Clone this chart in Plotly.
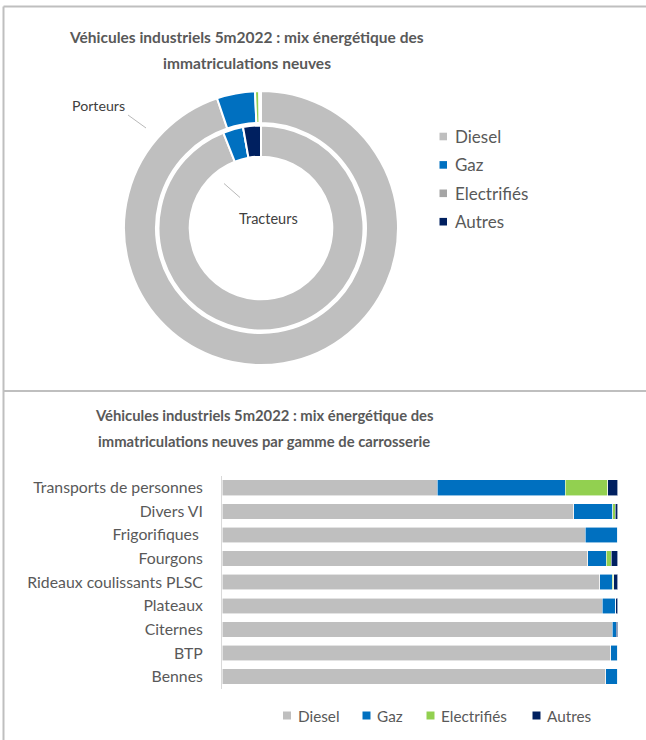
import plotly.graph_objects as go

W, H = 646, 740

# --- Donut: energy mix of new registrations (share, %) ---
energies = ["Diesel", "Gaz", "Electrifiés", "Autres"]
tracteurs = [94.0, 3.2, 0.0, 2.8]
porteurs = [94.8, 4.5, 0.5, 0.2]
colors_tracteurs = ["#BFBFBF", "#0070C0", "#A5A5A5", "#002060"]
colors_porteurs = ["#BFBFBF", "#0070C0", "#92D050", "#002060"]

# --- Bars: energy mix by body type (share, %) ---
carrosseries = ["Transports de personnes", "Divers VI", "Frigorifiques ", "Fourgons",
                "Rideaux coulissants PLSC", "Plateaux", "Citernes", "BTP", "Bennes"]
diesel = [54.4, 88.9, 91.8, 92.4, 95.5, 96.1, 98.7, 98.3, 97.0]
gaz = [32.4, 9.9, 8.2, 4.7, 3.2, 3.4, 0.9, 1.7, 3.0]
electrifies = [10.7, 0.6, 0.0, 1.3, 0.3, 0.0, 0.0, 0.0, 0.0]
autres = [2.5, 0.6, 0.0, 1.6, 1.0, 0.5, 0.4, 0.0, 0.0]
bar_colors = ["#BFBFBF", "#0070C0", "#92D050", "#002060"]

FONT = "Lato"
TXT = "#595959"


def px(x):
    return x / W


def py(y):
    return 1 - y / H


fig = go.Figure()

# inner ring (tracteurs) then outer ring (porteurs)
cx, cy = 261, 228
r_in, r_out = 102.5, 137
fig.add_trace(go.Pie(
    labels=energies, values=tracteurs, sort=False, direction="clockwise",
    rotation=0, hole=71.3 / r_in, textinfo="none", showlegend=False,
    marker=dict(colors=colors_tracteurs, line=dict(color="white", width=2)),
    domain=dict(x=[px(cx - r_in), px(cx + r_in)], y=[py(cy + r_in), py(cy - r_in)]),
    name="Tracteurs"))
fig.add_trace(go.Pie(
    labels=energies, values=porteurs, sort=False, direction="clockwise",
    rotation=0, hole=105 / r_out, textinfo="none", showlegend=False,
    marker=dict(colors=colors_porteurs, line=dict(color="white", width=2)),
    domain=dict(x=[px(cx - r_out), px(cx + r_out)], y=[py(cy + r_out), py(cy - r_out)]),
    name="Porteurs"))

# stacked horizontal bars
for name, vals, col in zip(energies, [diesel, gaz, electrifies, autres], bar_colors):
    fig.add_trace(go.Bar(
        y=carrosseries, x=vals, name=name, orientation="h",
        marker=dict(color=col, line=dict(color="rgba(255,255,255,0.7)", width=0.8)),
        showlegend=False, xaxis="x", yaxis="y"))

shapes = []
annotations = []

# panel frames
frame = dict(type="line", xref="paper", yref="paper", line=dict(color="#BFBFBF", width=2))
shapes.append({**frame, "x0": px(3.5), "x1": 1, "y0": py(6.5), "y1": py(6.5)})
shapes.append({**frame, "x0": px(3.5), "x1": px(3.5), "y0": py(6.5), "y1": 0})
shapes.append({**frame, "x0": px(3.5), "x1": 1, "y0": py(391), "y1": py(391)})


def text(x, y, s, size, color=TXT, bold=False, xanchor="center"):
    annotations.append(dict(
        x=px(x), y=py(y), xref="paper", yref="paper", text=f"<b>{s}</b>" if bold else s,
        showarrow=False, xanchor=xanchor, yanchor="middle",
        font=dict(family=FONT, size=size, color=color)))


# titles
text(247, 37, "Véhicules industriels 5m2022 : mix énergétique des", 15.5, bold=True)
text(247, 63, "immatriculations neuves", 15.5, bold=True)
text(264, 415, "Véhicules industriels 5m2022 : mix énergétique des", 14.8, bold=True)
text(264, 441.5, "immatriculations neuves par gamme de carrosserie", 14.8, bold=True)

# ring labels with leader lines
lead = dict(type="line", xref="paper", yref="paper", line=dict(color="#A6A6A6", width=0.8))
text(98, 106, "Porteurs", 14.2, color="#404040")
shapes.append({**lead, "x0": px(128), "y0": py(115), "x1": px(146), "y1": py(128)})
text(268, 218, "Tracteurs", 14.5, color="#404040")
shapes.append({**lead, "x0": px(224), "y0": py(183.5), "x1": px(240), "y1": py(197.5)})

# donut legend
for i, (lab, col) in enumerate(zip(energies, colors_tracteurs)):
    yy = 136.5 + i * 28.4
    shapes.append(dict(type="rect", xref="paper", yref="paper",
                       x0=px(439.5), x1=px(447), y0=py(yy + 3.8), y1=py(yy - 3.8),
                       fillcolor=col, line=dict(width=0)))
    text(452.5, yy, lab, 17, xanchor="left")

# bar legend
for lab, col, x0 in zip(energies, bar_colors, [283, 362.5, 426.5, 532.5]):
    yy = 715.5
    shapes.append(dict(type="rect", xref="paper", yref="paper",
                       x0=px(x0), x1=px(x0 + 8), y0=py(yy + 4), y1=py(yy - 4),
                       fillcolor=col, line=dict(width=0)))
    text(x0 + 12.5, yy, lab, 15.3, xanchor="left")

fig.update_layout(
    width=W, height=H, margin=dict(l=0, r=0, t=0, b=0),
    paper_bgcolor="white", plot_bgcolor="white",
    barmode="stack", bargap=0.34,
    shapes=shapes, annotations=annotations,
    xaxis=dict(domain=[px(222), px(617.6)], range=[0, 100], visible=False, fixedrange=True),
    yaxis=dict(domain=[py(688.5), py(475.9)], autorange="reversed",
               showline=True, linecolor="#D9D9D9", linewidth=1, showgrid=False,
               ticks="", ticklabelstandoff=15,
               tickfont=dict(family=FONT, size=15.8, color=TXT)),
    font=dict(family=FONT),
)

fig.write_html("out.html")
